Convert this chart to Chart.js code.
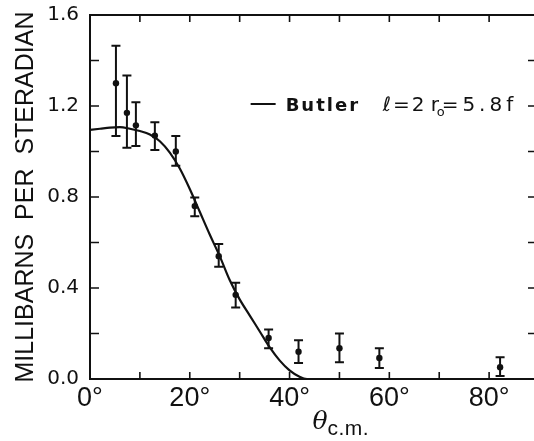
<!DOCTYPE html>
<html>
<head>
<meta charset="utf-8">
<script src="https://cdn.jsdelivr.net/npm/chart.js@4.4.1/dist/chart.umd.min.js"></script>
<style>
  html, body { margin: 0; padding: 0; background: #fff; overflow: hidden; }
  #wrap { width: 546px; height: 441px; }
</style>
</head>
<body>
<div id="wrap"><canvas id="crossSection" width="546" height="441"></canvas></div>
<script>
// measured points: angle (deg, c.m.) and cross section (mb/sr) with error bar ends
const angles  = [5.2, 7.4, 9.2, 13.0, 17.2, 21.0, 25.8, 29.2, 35.8, 41.8, 50.0, 58.0, 82.2];
const sigma   = [1.30, 1.17, 1.115, 1.07, 1.00, 0.76, 0.54, 0.37, 0.18, 0.12, 0.135, 0.092, 0.052];
const sigmaHi = [1.465, 1.334, 1.216, 1.129, 1.068, 0.798, 0.593, 0.423, 0.218, 0.170, 0.200, 0.135, 0.096];
const sigmaLo = [1.068, 1.016, 1.024, 1.007, 0.937, 0.715, 0.493, 0.314, 0.135, 0.070, 0.074, 0.048, 0.013];

// Butler curve, l=2, r0=5.8 f
const butlerAngles = [0, 2, 4, 6, 8, 10, 12, 14, 16, 18, 20, 22, 24, 26, 28, 30, 32, 34, 36, 38, 40, 42, 43.5, 90];
const butlerSigma  = [1.095, 1.10, 1.105, 1.107, 1.10, 1.09, 1.075, 1.045, 0.995, 0.925, 0.835, 0.735, 0.635, 0.54, 0.435, 0.35, 0.28, 0.21, 0.14, 0.082, 0.038, 0.01, 0, 0];

// axis ticks
const xTickValues  = [0, 10, 20, 30, 40, 50, 60, 70, 80, 90];
const xLabelValues = [0, 20, 40, 60, 80];
const yTickValues  = [0, 0.2, 0.4, 0.6, 0.8, 1.0, 1.2, 1.4, 1.6];
const yLabelValues = [0, 0.4, 0.8, 1.2, 1.6];

const ink = '#111';

// inward tick marks on all four sides, plus top/right frame
const frameTicks = {
    id: 'frameTicks',
    afterDraw(chart) {
        const {ctx, chartArea: a, scales: {x, y}} = chart;
        ctx.save();
        ctx.strokeStyle = ink;
        ctx.lineWidth = 2;
        ctx.beginPath();
        ctx.moveTo(a.left, a.top);
        ctx.lineTo(a.right, a.top);
        ctx.lineTo(a.right, a.bottom);
        ctx.stroke();
        ctx.lineWidth = 1.6;
        ctx.beginPath();
        xTickValues.forEach(v => {
            const px = x.getPixelForValue(v);
            ctx.moveTo(px, a.bottom); ctx.lineTo(px, a.bottom - 7);
            ctx.moveTo(px, a.top); ctx.lineTo(px, a.top + 7);
        });
        yTickValues.forEach(v => {
            const py = y.getPixelForValue(v);
            ctx.moveTo(a.left, py); ctx.lineTo(a.left + 9, py);
            ctx.moveTo(a.right, py); ctx.lineTo(a.right - 11, py);
        });
        ctx.stroke();
        ctx.restore();
    }
};

// vertical error bars with caps
const errorBars = {
    id: 'errorBars',
    afterDatasetsDraw(chart) {
        const {ctx, scales: {x, y}} = chart;
        ctx.save();
        ctx.strokeStyle = ink;
        ctx.lineWidth = 2;
        ctx.beginPath();
        angles.forEach((a, i) => {
            const px = x.getPixelForValue(a);
            const top = y.getPixelForValue(sigmaHi[i]);
            const bot = y.getPixelForValue(sigmaLo[i]);
            ctx.moveTo(px, top); ctx.lineTo(px, bot);
            ctx.moveTo(px - 4.5, top); ctx.lineTo(px + 4.5, top);
            ctx.moveTo(px - 4.5, bot); ctx.lineTo(px + 4.5, bot);
        });
        ctx.stroke();
        ctx.restore();
    }
};

// curve key inside the plot and the x axis title with subscript
const annotations = {
    id: 'annotations',
    afterDraw(chart) {
        const {ctx, scales: {x, y}} = chart;
        const ky = y.getPixelForValue(1.2) - 2;
        const kx = x.getPixelForValue(32.2);
        ctx.save();
        ctx.fillStyle = ink;
        ctx.strokeStyle = ink;
        ctx.lineWidth = 2;
        ctx.beginPath();
        ctx.moveTo(kx, ky); ctx.lineTo(kx + 25, ky);
        ctx.stroke();
        ctx.textBaseline = 'alphabetic';
        ctx.font = "bold 18px 'DejaVu Sans'";
        ctx.letterSpacing = '2px';
        ctx.fillText('Butler', kx + 35, ky + 7);
        ctx.font = "20px 'DejaVu Sans'";
        ctx.letterSpacing = '2px';
        ctx.fillText('\u2113=2', kx + 132, ky + 7);
        ctx.fillText('r', kx + 180, ky + 7);
        ctx.font = "13px 'DejaVu Sans'";
        ctx.letterSpacing = '0px';
        ctx.fillText('o', kx + 186, ky + 12);
        ctx.font = "20px 'DejaVu Sans'";
        ctx.letterSpacing = '4px';
        ctx.fillText('=5.8f', kx + 191, ky + 7);

        // x axis title
        ctx.letterSpacing = '0px';
        const tx = x.getPixelForValue(44.6);
        ctx.font = "italic 25px 'DejaVu Serif'";
        ctx.fillText('\u03b8', tx, 429);
        ctx.font = "21px 'Liberation Sans'";
        ctx.letterSpacing = '0.5px';
        ctx.fillText('c.m.', tx + 15, 435);
        ctx.restore();
    }
};

new Chart(document.getElementById('crossSection'), {
    type: 'scatter',
    data: {
        datasets: [
            {
                label: 'Butler',
                data: butlerAngles.map((a, i) => ({x: a, y: butlerSigma[i]})),
                showLine: true,
                borderColor: ink,
                borderWidth: 2.2,
                pointRadius: 0,
                cubicInterpolationMode: 'monotone'
            },
            {
                label: 'data',
                data: angles.map((a, i) => ({x: a, y: sigma[i]})),
                backgroundColor: ink,
                borderColor: ink,
                pointRadius: 3.2,
                borderWidth: 0
            }
        ]
    },
    options: {
        responsive: false,
        animation: false,
        layout: { padding: { top: 12, right: 7, left: 0, bottom: 0 } },
        plugins: {
            legend: { display: false },
            tooltip: { enabled: false }
        },
        scales: {
            x: {
                type: 'linear',
                min: 0,
                max: 90,
                afterFit: s => { s.height = 62; },
                afterBuildTicks: s => { s.ticks = xLabelValues.map(v => ({value: v})); },
                grid: { display: false },
                border: { display: true, color: ink, width: 2 },
                ticks: {
                    color: ink,
                    padding: -2,
                    maxRotation: 0,
                    font: { family: "'Liberation Sans'", size: 27, lineHeight: 1 },
                    callback: v => v + '\u00b0'
                }
            },
            y: {
                type: 'linear',
                min: 0,
                max: 1.6,
                afterFit: s => { s.width = 90; },
                afterBuildTicks: s => { s.ticks = yLabelValues.map(v => ({value: v})); },
                grid: { display: false },
                border: { display: true, color: ink, width: 2 },
                ticks: {
                    color: ink,
                    padding: 3,
                    font: { family: "'DejaVu Sans'", size: 20 },
                    callback: v => v.toFixed(1)
                },
                title: {
                    display: true,
                    text: 'MILLIBARNS  PER  STERADIAN',
                    color: ink,
                    padding: { top: 11 },
                    font: { family: "'Liberation Sans'", size: 25 }
                }
            }
        }
    },
    plugins: [frameTicks, errorBars, annotations]
});
</script>
</body>
</html>
